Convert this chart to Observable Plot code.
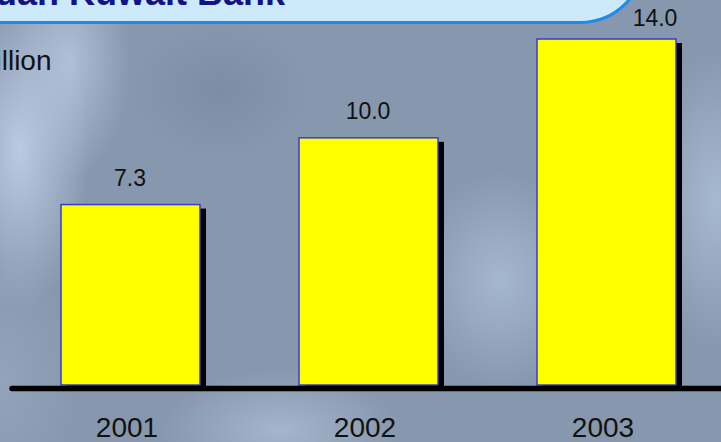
<!DOCTYPE html>
<html>
<head>
<meta charset="utf-8">
<script src="https://cdn.jsdelivr.net/npm/d3@7"></script>
<script src="https://cdn.jsdelivr.net/npm/@observablehq/plot@0.6"></script>
<style>
  html, body { margin: 0; padding: 0; }
  #wrap {
    position: relative; width: 721px; height: 442px; overflow: hidden;
    font-family: "Liberation Sans", Arial, sans-serif;
    background-color: #8797ad;
    background-image:
      radial-gradient(ellipse 70px 160px at 20px 150px, rgba(190,205,228,0.95), rgba(190,205,228,0) 100%),
      radial-gradient(ellipse 60px 120px at 70px 60px, rgba(185,200,225,0.8), rgba(185,200,225,0) 100%),
      radial-gradient(ellipse 90px 110px at 500px 280px, rgba(168,186,210,0.9), rgba(168,186,210,0) 100%),
      radial-gradient(ellipse 70px 150px at 715px 200px, rgba(170,188,212,0.9), rgba(170,188,212,0) 100%),
      radial-gradient(ellipse 120px 60px at 280px 430px, rgba(168,184,206,0.9), rgba(168,184,206,0) 100%),
      radial-gradient(ellipse 90px 70px at 220px 90px, rgba(120,136,160,0.7), rgba(120,136,160,0) 100%),
      radial-gradient(ellipse 80px 120px at 0px 380px, rgba(150,166,190,0.8), rgba(150,166,190,0) 100%);
  }
  #titlebox {
    position: absolute; left: -20px; top: -45px; width: 660px; height: 63px;
    background: #cdeafb; border: 3px solid #1f8be6; border-radius: 0 0 66px 0;
  }
  #title {
    position: absolute; right: 436px; top: -28px; white-space: nowrap;
    font: bold 36px "Liberation Sans", Arial, sans-serif; color: #12128a;
  }
  #chart { position: absolute; left: 0; top: 0; }
</style>
</head>
<body>
<div id="wrap">
  <div id="chart"></div>
  <div id="titlebox"></div>
  <div id="title"></div>
</div>
<script>
const years = ["2001", "2002", "2003"];
const values = [7.3, 10.0, 14.0];
const valueLabels = ["7.3", "10.0", "14.0"];
const unitLabel = "KD Million";
const titleText = "Jordan Kuwait Bank";

const data = years.map((year, i) => ({year, value: values[i], label: valueLabels[i]}));

document.getElementById("title").textContent = titleText;

const chart = Plot.plot({
  width: 721,
  height: 442,
  marginLeft: 12,
  marginRight: 0,
  marginTop: 39,
  marginBottom: 57,
  style: {background: "transparent", fontFamily: "'Liberation Sans', Arial, sans-serif", color: "#111", overflow: "visible"},
  x: {domain: years, range: [60.25, 676.25], paddingInner: 0.4145, paddingOuter: 0, align: 0.5, label: null},
  y: {domain: [0, 14], range: [385, 39], axis: null},
  marks: [
    Plot.barY(data, {x: "year", y: "value", fill: "#000", dx: 6, dy: 4}),
    Plot.barY(data, {x: "year", y: "value", fill: "#ffff00", stroke: "#3a3ad2", strokeWidth: 1.5}),
    Plot.ruleY([0], {dy: 3, stroke: "#000", strokeWidth: 5.5, strokeLinecap: "round"}),
    Plot.text(data.slice(0, 2), {x: "year", y: "value", text: "label", lineAnchor: "top", dy: -35.5, dx: -1, fontSize: 23, fill: "#111"}),
    Plot.text(data.slice(2), {x: "year", y: "value", text: "label", lineAnchor: "top", dy: -29.7, dx: 48, fontSize: 23, fill: "#111"}),
    Plot.text([unitLabel], {frameAnchor: "top-left", text: d => d, textAnchor: "end", lineAnchor: "top", dx: 39, dy: 11, fontSize: 28, fill: "#111"}),
    Plot.axisX({tickSize: 0, tickPadding: 32, fontSize: 28, dx: -4, label: null, fill: "#111"})
  ]
});
document.getElementById("chart").appendChild(chart);
</script>
</body>
</html>
